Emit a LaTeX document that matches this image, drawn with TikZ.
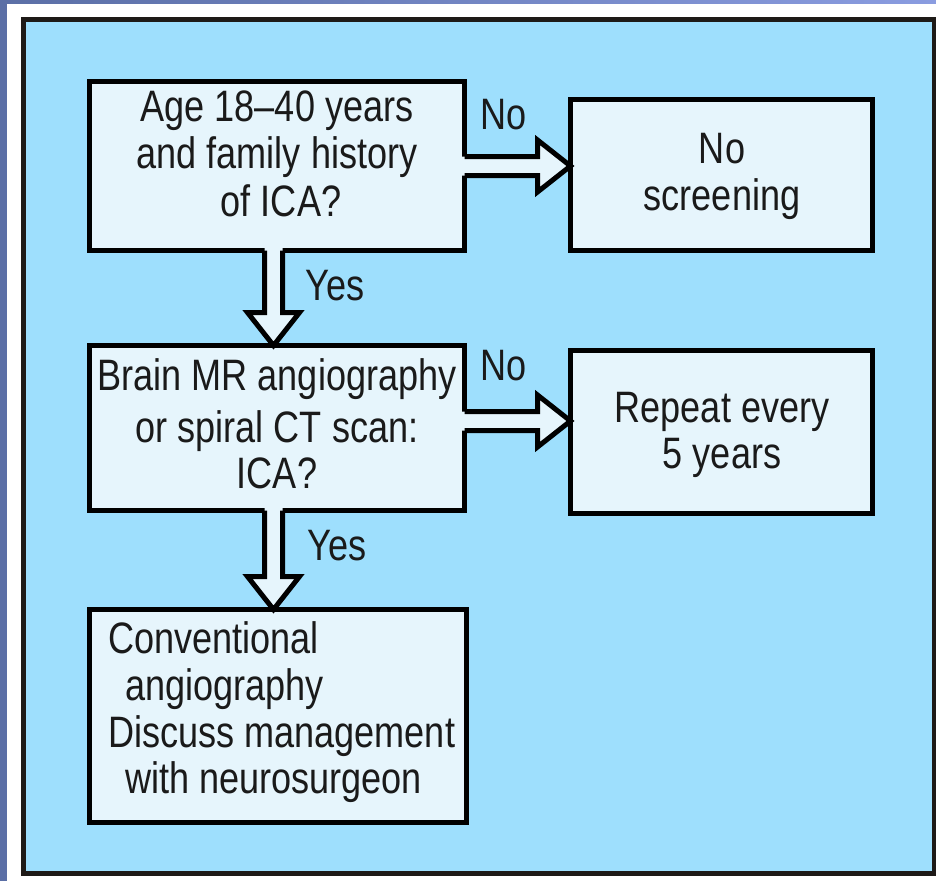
\documentclass[tikz,border=0pt]{standalone}
\usepackage{fontspec}
\setmainfont{Liberation Sans}[FakeStretch=0.82]
\usetikzlibrary{calc}
\definecolor{panelblue}{HTML}{9EDFFD}
\definecolor{boxfill}{HTML}{E6F5FC}
\definecolor{edgeblue}{HTML}{5B6FA6}
\definecolor{topblue}{HTML}{8A9CE0}
\definecolor{ink}{HTML}{1A1A1A}
\definecolor{frameblack}{HTML}{1E1A17}
\tikzset{
  flowbox/.style={draw=black, line width=5pt, fill=boxfill, inner sep=0pt, outer sep=0pt},
  boxtext/.style={font=\fontsize{44}{48}\selectfont, text=ink, inner sep=0pt, anchor=base},
  linetext/.style={boxtext, anchor=base west},
  fatfill/.style={fill=boxfill},
  fatline/.style={draw=black, line width=5pt, line join=miter}
}
\newcommand{\harrowdraw}[2]{%
  \fill[fatfill] ($(#1)+(-3,-9.5)$) -- ($(#2)+(-33,-9.5)$) -- ($(#2)+(-33,-26)$) -- (#2)
     -- ($(#2)+(-33,26)$) -- ($(#2)+(-33,9.5)$) -- ($(#1)+(-3,9.5)$) -- cycle;
  \draw[fatline] ($(#1)+(0,-9.5)$) -- ($(#2)+(-33,-9.5)$) -- ($(#2)+(-33,-26)$) -- (#2)
     -- ($(#2)+(-33,26)$) -- ($(#2)+(-33,9.5)$) -- ($(#1)+(0,9.5)$);
}
\newcommand{\varrowdraw}[2]{%
  \fill[fatfill] ($(#1)+(-9,-3)$) -- ($(#2)+(-9,-33)$) -- ($(#2)+(-26,-33)$) -- (#2)
     -- ($(#2)+(26,-33)$) -- ($(#2)+(9,-33)$) -- ($(#1)+(9,-3)$) -- cycle;
  \draw[fatline] ($(#1)+(-9,0)$) -- ($(#2)+(-9,-33)$) -- ($(#2)+(-26,-33)$) -- (#2)
     -- ($(#2)+(26,-33)$) -- ($(#2)+(9,-33)$) -- ($(#1)+(9,0)$);
}
\begin{document}
\begin{tikzpicture}[x=1pt,y=-1pt]
\useasboundingbox (0,0) rectangle (936,881);
% page background
\fill[white] (0,0) rectangle (936,881);
\fill[edgeblue] (0,0) rectangle (7,881);
\shade[left color=edgeblue, right color=topblue] (0,0) rectangle (936,3);
% outer panel
\draw[frameblack, line width=5pt, fill=panelblue] (23.5,19.5) rectangle (934,873);
% boxes
\node[flowbox, minimum width=375pt, minimum height=169pt] (q1) at (277,166) {};
\node[flowbox, minimum width=302pt, minimum height=151pt] (q2) at (721.5,175) {};
\node[flowbox, minimum width=375pt, minimum height=165pt] (q3) at (277,428) {};
\node[flowbox, minimum width=302pt, minimum height=163pt] (q4) at (721.5,432) {};
\node[flowbox, minimum width=377pt, minimum height=213pt] (q5) at (278,716) {};
% connector end points
\coordinate (s1) at (q1.east);
\coordinate (t1) at (s1 -| q2.west);
\coordinate (s2) at ($(q3.east)+(0,-7)$);
\coordinate (t2) at (s2 -| q4.west);
\coordinate (s3) at ($(q1.south)+(-3.5,0)$);
\coordinate (t3) at (s3 |- q3.north);
\coordinate (s4) at ($(q3.south)+(-3.5,0)$);
\coordinate (t4) at (s4 |- q5.north);
% fat arrows
\harrowdraw{s1}{t1}
\harrowdraw{s2}{t2}
\varrowdraw{s3}{t3}
\varrowdraw{s4}{t4}
% box texts
\node[boxtext] (a1) at (277,121) {Age 18–40 years};
\node[boxtext] (a2) at (277,168) {and family history};
\node[boxtext] (a3) at (281,216) {of ICA?};
\node[boxtext] (b1) at (722,163) {No};
\node[boxtext] (b2) at (722,210) {screening};
\node[boxtext] (c1) at (277,390) {Brain MR angiography};
\node[boxtext] (c2) at (277,442) {or spiral CT scan:};
\node[boxtext] (c3) at (277,488) {ICA?};
\node[boxtext] (d1) at (722,422) {Repeat every};
\node[boxtext] (d2) at (722,468) {5 years};
\node[linetext] (e1) at (108,653) {Conventional};
\node[linetext] (e2) at (125,700) {angiography};
\node[linetext] (e3) at (108,747) {Discuss management};
\node[linetext] (e4) at (125,793) {with neurosurgeon};
% connector labels
\node[boxtext] (n1) at (504,129) {No};
\node[boxtext] (n2) at (504,380) {No};
\node[boxtext] (y1) at (335,300) {Yes};
\node[boxtext] (y2) at (337,560) {Yes};
\end{tikzpicture}
\end{document}
